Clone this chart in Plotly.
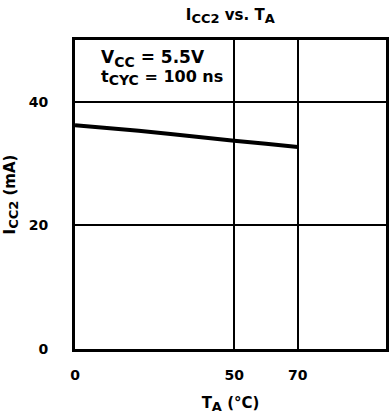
import plotly.graph_objects as go

temp_c = [0, 10, 20, 30, 40, 50, 60, 70]
icc2_ma = [36.2, 35.8, 35.3, 34.8, 34.2, 33.7, 33.2, 32.7]
x_ticks = [0, 50, 70]
y_ticks = [0, 20, 40]

FONT = "DejaVu Sans, Liberation Sans, Arial, sans-serif"


def sub(t, px):
    return f"<sub><span style='font-size:{px}px'>{t}</span></sub>"


fig = go.Figure()
fig.add_trace(go.Scatter(x=temp_c, y=icc2_ma, mode="lines",
                         line=dict(color="black", width=4), showlegend=False))

fig.update_layout(
    width=389, height=417,
    margin=dict(l=75, r=0, t=40, b=68),
    paper_bgcolor="white", plot_bgcolor="white",
    font=dict(family=FONT, color="black", size=14, weight="bold"),
    title=dict(text="I" + sub("CC2", 13) + " vs. T" + sub("A", 13), x=0.592, xanchor="center",
               y=0.965, yanchor="middle", font=dict(size=15, weight="bold")),
    xaxis=dict(range=[0, 97.7], tickvals=x_ticks, showgrid=True, gridcolor="black",
               gridwidth=1.5, zeroline=False, showline=True, linecolor="black",
               linewidth=3, mirror=True, ticks="", ticklabelstandoff=11,
               tickfont=dict(size=14, weight="bold"),
               title=dict(text="T" + sub("A", 13) + " (°C)", standoff=16,
                          font=dict(size=15, weight="bold"))),
    yaxis=dict(range=[0, 50], tickvals=y_ticks, showgrid=True, gridcolor="black",
               gridwidth=1.5, zeroline=False, showline=True, linecolor="black",
               linewidth=3, mirror=True, ticks="", ticklabelstandoff=21,
               tickfont=dict(size=14, weight="bold"),
               title=dict(text="I" + sub("CC2", 13) + " (mA)", standoff=10,
                          font=dict(size=15, weight="bold"))),
    annotations=[
        dict(text="V" + sub("CC", 14) + " = 5.5V", x=7.5, y=47.0,
             xref="x", yref="y", xanchor="left", yanchor="middle", showarrow=False,
             align="left", font=dict(size=17, weight="bold")),
        dict(text="t" + sub("CYC", 14) + " = 100 ns", x=7.5, y=44.0,
             xref="x", yref="y", xanchor="left", yanchor="middle", showarrow=False,
             align="left", font=dict(size=16, weight="bold")),
    ],
)

fig.write_html("out.html")
